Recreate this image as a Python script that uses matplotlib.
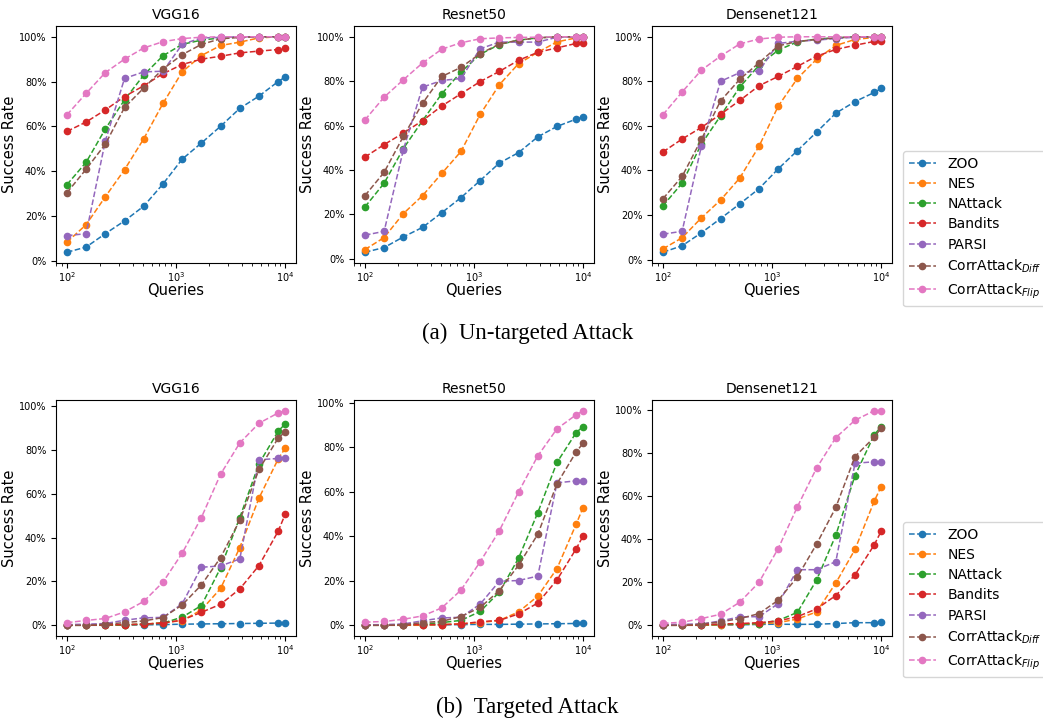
import numpy as np
import matplotlib
matplotlib.use("Agg")
import matplotlib.pyplot as plt
from matplotlib.ticker import PercentFormatter

# Query budgets (100 * 1.5^k, then 10000)
queries = [100, 150, 225, 337.5, 506.25, 759.4, 1139, 1708.6, 2562.9, 3844.3, 5766.5, 8649.8, 10000]

methods = ["ZOO", "NES", "NAttack", "Bandits", "PARSI",
           r"CorrAttack$_{Diff}$", r"CorrAttack$_{Flip}$"]
models = ["VGG16", "Resnet50", "Densenet121"]

# Un-targeted success rates (%)
untargeted_vgg16 = [
    [3.7, 6.0, 12.0, 17.7, 24.3, 34.2, 45.3, 52.5, 60.0, 68.0, 73.5, 80.0, 82.0],
    [8.2, 16.0, 28.5, 40.6, 54.4, 70.2, 84.3, 91.6, 96.1, 97.6, 99.5, 100, 100],
    [33.9, 43.9, 58.8, 71.8, 82.9, 91.5, 96.6, 98.5, 99.5, 100, 100, 100, 100],
    [57.7, 61.9, 67.3, 73.3, 78.1, 83.5, 87.6, 90.0, 91.3, 92.8, 93.6, 94.3, 94.8],
    [11.1, 12.0, 53.4, 81.4, 84.3, 84.6, 96.6, 99.5, 99.7, 100, 100, 100, 100],
    [30.3, 40.8, 52.0, 68.4, 77.1, 85.6, 92.0, 96.6, 99.1, 99.7, 100, 100, 100],
    [65.1, 74.7, 84.0, 90.0, 95.0, 97.8, 99.2, 99.8, 100, 100, 100, 100, 100],
]
untargeted_resnet50 = [
    [2.9, 5.0, 9.8, 14.1, 20.7, 27.5, 35.2, 43.1, 47.8, 54.9, 59.6, 62.9, 63.7],
    [4.1, 9.5, 20.3, 28.4, 38.4, 48.3, 65.0, 78.4, 87.9, 93.0, 97.7, 99.5, 99.7],
    [23.3, 34.0, 49.6, 62.2, 74.3, 84.1, 92.1, 96.5, 98.5, 99.5, 100, 100, 100],
    [45.8, 51.4, 56.6, 62.2, 68.8, 74.3, 79.8, 84.4, 89.4, 93.0, 95.0, 97.0, 97.0],
    [10.6, 12.3, 49.0, 77.3, 80.3, 81.2, 94.6, 97.6, 97.6, 97.6, 99.8, 100, 100],
    [28.4, 38.9, 55.1, 70.0, 82.1, 86.2, 92.4, 96.7, 98.5, 99.5, 100, 100, 100],
    [62.5, 72.8, 80.6, 88.2, 94.4, 97.3, 99.1, 99.5, 99.7, 99.8, 100, 100, 100],
]
untargeted_densenet121 = [
    [3.3, 6.2, 12.0, 18.4, 25.0, 31.8, 40.7, 48.9, 57.2, 65.7, 70.9, 75.0, 76.8],
    [4.8, 9.8, 18.7, 26.7, 36.6, 50.8, 68.8, 81.3, 89.9, 96.1, 98.8, 99.7, 100],
    [24.1, 34.3, 51.8, 64.5, 77.4, 87.2, 94.0, 97.7, 99.0, 99.5, 100, 100, 100],
    [48.3, 54.1, 59.3, 65.2, 71.4, 78.0, 82.2, 86.7, 91.3, 94.3, 96.2, 97.9, 98.0],
    [11.4, 12.7, 50.8, 80.0, 83.9, 84.6, 97.0, 98.0, 98.5, 99.2, 99.8, 100, 100],
    [27.3, 37.3, 53.9, 71.2, 80.9, 88.3, 95.9, 97.9, 98.8, 99.5, 100, 100, 100],
    [65.0, 75.2, 85.0, 91.3, 96.8, 99.0, 99.8, 100, 100, 100, 100, 100, 100],
]

# Targeted success rates (%)
targeted_vgg16 = [
    [0, 0, 0, 0.1, 0.2, 0.3, 0.5, 0.6, 0.7, 0.8, 0.9, 1.0, 1.1],
    [0, 0, 0.1, 0.2, 0.5, 1.2, 2.1, 7.0, 16.8, 35.5, 58.1, 76.0, 80.8],
    [0, 0, 0.1, 0.2, 0.5, 1.0, 3.7, 9.0, 26.2, 49.2, 73.8, 88.7, 91.9],
    [0, 0, 0.2, 0.3, 0.5, 1.0, 2.4, 5.9, 9.6, 16.6, 27.3, 43.0, 50.6],
    [0.3, 0.5, 0.8, 2.3, 3.4, 3.6, 9.8, 26.5, 27.1, 30.3, 75.6, 76.2, 76.2],
    [0, 0, 0.5, 1.2, 2.0, 3.5, 9.3, 18.4, 30.9, 48.0, 71.2, 85.5, 88.3],
    [1.2, 2.2, 3.1, 6.1, 10.9, 19.7, 32.9, 49.2, 69.0, 83.3, 92.3, 97.0, 98.0],
]
targeted_resnet50 = [
    [0, 0, 0, 0.1, 0.2, 0.3, 0.4, 0.4, 0.5, 0.6, 0.7, 0.8, 0.9],
    [0, 0, 0, 0, 0.3, 0.6, 1.2, 2.2, 6.0, 13.1, 25.5, 45.5, 52.9],
    [0, 0, 0.2, 0.5, 1.2, 2.2, 6.2, 14.9, 30.2, 50.6, 73.2, 86.6, 89.3],
    [0, 0, 0.2, 0.3, 0.3, 0.6, 1.6, 2.2, 5.1, 10.0, 20.4, 34.4, 40.1],
    [0.2, 0.3, 0.6, 2.0, 3.3, 3.6, 9.5, 19.8, 20.1, 22.1, 64.0, 64.9, 64.9],
    [0, 0, 0.3, 1.2, 1.8, 3.9, 8.0, 15.6, 27.0, 40.9, 63.6, 77.9, 81.8],
    [1.4, 1.7, 2.7, 4.2, 7.8, 15.8, 28.5, 42.5, 59.9, 76.1, 88.3, 94.6, 96.4],
]
targeted_densenet121 = [
    [0, 0, 0, 0.1, 0.2, 0.4, 0.5, 0.4, 0.5, 0.8, 1.2, 1.2, 1.3],
    [0, 0, 0, 0.2, 0.4, 0.7, 1.2, 2.9, 6.2, 19.6, 35.2, 57.6, 64.3],
    [0, 0, 0.2, 0.4, 0.5, 0.8, 2.2, 6.0, 21.0, 41.8, 69.5, 88.4, 92.2],
    [0, 0, 0.2, 0.6, 0.8, 1.2, 2.0, 4.0, 7.6, 13.8, 23.4, 37.3, 43.6],
    [0.3, 0.5, 0.6, 2.0, 3.9, 4.0, 10.0, 25.8, 25.8, 29.5, 75.2, 75.9, 75.9],
    [0, 0, 0.5, 1.6, 3.1, 5.4, 11.6, 22.4, 37.7, 54.7, 78.3, 87.3, 91.5],
    [0.9, 1.4, 3.1, 5.1, 10.7, 19.9, 35.6, 55.0, 73.0, 87.1, 95.2, 99.6, 99.6],
]

rows = [
    [untargeted_vgg16, untargeted_resnet50, untargeted_densenet121],
    [targeted_vgg16, targeted_resnet50, targeted_densenet121],
]

W, H = 1043, 721
fig = plt.figure(figsize=(W / 100, H / 100), dpi=100)

col_left = [56, 354, 652]
row_box = [(26, 263), (400, 636)]  # (top, bottom) in pixels
ax_w = 240

for r, row in enumerate(rows):
    top, bottom = row_box[r]
    for c, data in enumerate(row):
        ax = fig.add_axes([col_left[c] / W, 1 - bottom / H, ax_w / W, (bottom - top) / H])
        for name, vals in zip(methods, data):
            ax.plot(queries, vals, "--o", label=name, markersize=4.5, linewidth=1.1)
        ax.set_xscale("log")
        ax.yaxis.set_major_formatter(PercentFormatter(xmax=100, decimals=0))
        ax.set_title(models[c], fontsize=10, pad=5)
        ax.set_xlabel("Queries", fontsize=10.5, labelpad=-1)
        ax.set_ylabel("Success Rate", fontsize=10.5, labelpad=1)
        ax.tick_params(labelsize=7)
        ax.tick_params(axis="x", which="both", pad=2)
        if c == 0:
            handles, labels = ax.get_legend_handles_labels()
    fig.legend(handles, labels, loc="upper left",
               bbox_to_anchor=(903 / W, 1 - (151 if r == 0 else 522) / H),
               fontsize=10, borderaxespad=0, labelspacing=0.45)

fig.text(528 / W, 1 - 333 / H, "(a)  Un-targeted Attack", ha="center", va="center",
         fontsize=16.5, family="Liberation Serif")
fig.text(527 / W, 1 - 707 / H, "(b)  Targeted Attack", ha="center", va="center",
         fontsize=16.5, family="Liberation Serif")

fig.savefig("out.png", dpi=100)
